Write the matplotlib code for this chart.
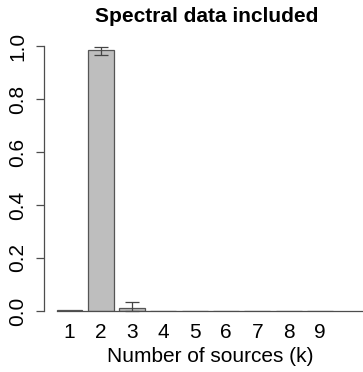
import numpy as np
import matplotlib.pyplot as plt

plt.rcParams["font.family"] = ["Liberation Sans", "DejaVu Sans"]

# posterior probability of the number of sources
k_values = [1, 2, 3, 4, 5, 6, 7, 8, 9]
probs = [0.002, 0.985, 0.010, 0, 0, 0, 0, 0, 0]
err_low = [0.0, 0.019, 0.010, 0, 0, 0, 0, 0, 0]
err_high = [0.0, 0.012, 0.023, 0, 0, 0, 0, 0, 0]
y_ticks = [0.0, 0.2, 0.4, 0.6, 0.8, 1.0]

W, H = 363, 372
fig = plt.figure(figsize=(W / 100, H / 100), dpi=100)
ax = fig.add_axes([44 / W, 61 / H, (W - 44) / W, 265 / H])

axis_col = "#4d4d4d"
x = np.array(k_values, dtype=float)
ax.bar(x, probs, width=0.83, color="#bebebe", edgecolor="#555555", linewidth=0.9)

# error bars only where there is spread
for xi, p, lo, hi in zip(x, probs, err_low, err_high):
    if lo == 0 and hi == 0:
        continue
    ax.errorbar(xi, p, yerr=[[lo], [hi]], fmt="none", ecolor="#444444",
                elinewidth=0.9, capsize=5.2, capthick=0.9, clip_on=False)

ax.plot([0.6, 11], [0, 0], color=axis_col, linewidth=0.9, clip_on=False)

ax.set_xlim(0.185, 10.38)
ax.set_ylim(0, 1.0)

for s in ["top", "right", "bottom"]:
    ax.spines[s].set_visible(False)
ax.spines["left"].set_color(axis_col)
ax.spines["left"].set_linewidth(0.9)
ax.spines["left"].set_bounds(0, 1)

ax.set_yticks(y_ticks)
ax.set_yticklabels([f"{v:.1f}" for v in y_ticks], rotation=90, va="center",
                   fontsize=15)
ax.tick_params(axis="y", length=6, width=0.9, color=axis_col, pad=6)
ax.set_xticks(x)
ax.set_xticklabels([str(k) for k in k_values], fontsize=15)
ax.tick_params(axis="x", length=0, pad=9)

fig.text(210 / W, 1 - 356 / H, "Number of sources (k)", ha="center",
         va="center", fontsize=15)
fig.text(207 / W, 1 - 17 / H, "Spectral data included", ha="center",
         va="center", fontsize=15, fontweight="bold")

fig.savefig("out.png", dpi=100)
